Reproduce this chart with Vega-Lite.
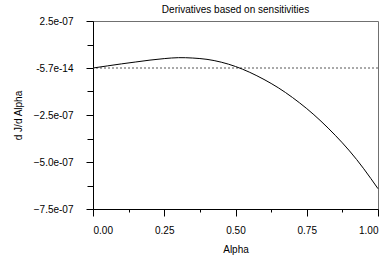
{
  "$schema": "https://vega.github.io/schema/vega-lite/v6.json",
  "width": 285,
  "height": 188,
  "autosize": {"type": "none"},
  "padding": {"left": 93, "top": 21, "right": 9, "bottom": 49},
  "background": "white",
  "config": {
    "font": "Liberation Sans",
    "view": {"stroke": "#707070", "strokeWidth": 1},
    "axis": {"labelFont": "Liberation Sans", "titleFont": "Liberation Sans", "labelFontSize": 10, "titleFontSize": 10, "titleFontWeight": "normal", "labelColor": "#000", "titleColor": "#000", "grid": false, "domainColor": "#000", "tickColor": "#000"}
  },
  "title": {"text": "Derivatives based on sensitivities", "fontSize": 10, "fontWeight": "normal", "font": "Liberation Sans", "color": "#000", "frame": "group", "anchor": "middle", "offset": 1},
  "datasets": {
    "curve": [
      {"alpha": 0.00, "dJ": 0},
      {"alpha": 0.05, "dJ": 1.1e-8},
      {"alpha": 0.10, "dJ": 2.2e-8},
      {"alpha": 0.15, "dJ": 3.2e-8},
      {"alpha": 0.20, "dJ": 4.2e-8},
      {"alpha": 0.25, "dJ": 5.0e-8},
      {"alpha": 0.30, "dJ": 5.5e-8},
      {"alpha": 0.35, "dJ": 5.3e-8},
      {"alpha": 0.40, "dJ": 4.6e-8},
      {"alpha": 0.45, "dJ": 3.1e-8},
      {"alpha": 0.50, "dJ": 8e-9},
      {"alpha": 0.55, "dJ": -2.3e-8},
      {"alpha": 0.60, "dJ": -6.1e-8},
      {"alpha": 0.65, "dJ": -1.05e-7},
      {"alpha": 0.70, "dJ": -1.57e-7},
      {"alpha": 0.75, "dJ": -2.16e-7},
      {"alpha": 0.80, "dJ": -2.83e-7},
      {"alpha": 0.85, "dJ": -3.58e-7},
      {"alpha": 0.90, "dJ": -4.41e-7},
      {"alpha": 0.95, "dJ": -5.36e-7},
      {"alpha": 1.00, "dJ": -6.42e-7}
    ],
    "baseline": [{"level": -5.7e-14}]
  },
  "resolve": {"axis": {"x": "independent", "y": "independent"}},
  "layer": [
    {
      "data": {"name": "baseline"},
      "mark": {"type": "rule", "color": "#555", "strokeWidth": 1, "strokeDash": [2, 2]},
      "encoding": {
        "y": {"field": "level", "type": "quantitative", "scale": {"domain": [-7.5e-7, 2.5e-7], "nice": false, "zero": false},
          "axis": {"orient": "left", "values": [1.25e-7, -1.25e-7, -3.75e-7, -6.25e-7], "labels": false, "domain": false, "tickSize": 6, "title": null}}
      }
    },
    {
      "data": {"name": "curve"},
      "mark": {"type": "line", "color": "#000", "strokeWidth": 1, "interpolate": "natural"},
      "encoding": {
        "x": {"field": "alpha", "type": "quantitative", "scale": {"domain": [0, 1], "nice": false},
          "axis": {"orient": "bottom", "values": [0, 0.25, 0.5, 0.75, 1], "format": ".2f", "tickSize": 7, "labelPadding": 9, "title": "Alpha", "titlePadding": 9}},
        "y": {"field": "dJ", "type": "quantitative", "scale": {"domain": [-7.5e-7, 2.5e-7], "nice": false, "zero": false},
          "axis": {"orient": "left", "values": [2.5e-7, 0, -2.5e-7, -5e-7, -7.5e-7], "tickSize": 7, "labelPadding": 13, "title": "d J/d Alpha", "titlePadding": 10,
            "labelExpr": "abs(datum.value) < 1e-10 ? '-5.7e-14' : replace(format(datum.value, '.1e'), 'e-', 'e-0')"}}
      }
    },
    {
      "data": {"name": "curve"},
      "mark": {"type": "line", "opacity": 0},
      "encoding": {
        "x": {"field": "alpha", "type": "quantitative", "scale": {"domain": [0, 1], "nice": false},
          "axis": {"orient": "bottom", "values": [0.125, 0.375, 0.625, 0.875], "labels": false, "domain": false, "tickSize": 3, "title": null}}
      }
    }
  ]
}
